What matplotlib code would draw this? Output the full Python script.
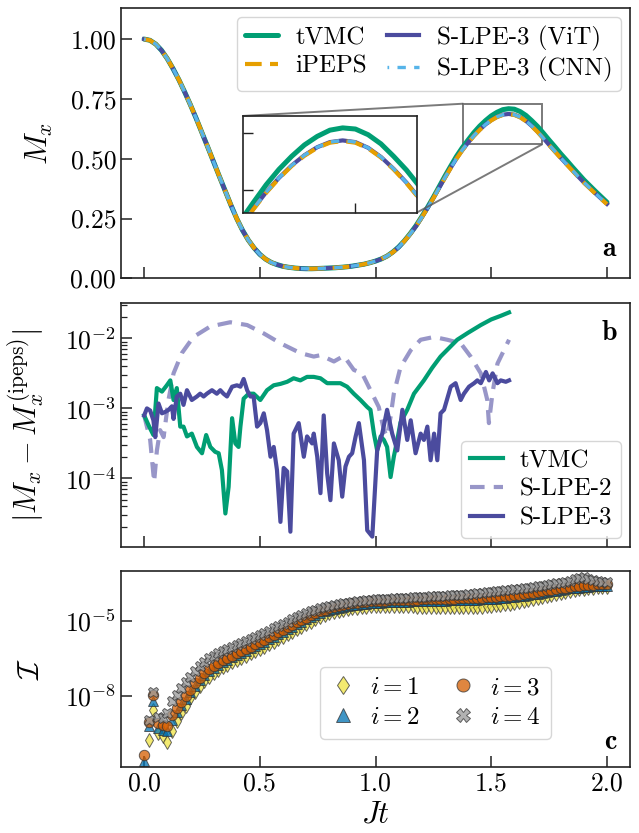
import numpy as np
import matplotlib
matplotlib.use("Agg")
import matplotlib.pyplot as plt
from matplotlib.ticker import LogLocator, NullLocator, NullFormatter, FixedLocator
from mpl_toolkits.axes_grid1.inset_locator import mark_inset

plt.rcParams['font.family'] = 'serif'
plt.rcParams['font.serif'] = ['cmr10']
plt.rcParams['mathtext.fontset'] = 'cm'
plt.rcParams['axes.unicode_minus'] = False
plt.rcParams['axes.formatter.use_mathtext'] = True

# ---------------- panel a data (t = 0, 0.025, ..., 2.0) ----------------
t_a = [round(0.025 * k, 3) for k in range(81)]
mx_ipeps = [1.000, 0.995, 0.979, 0.953, 0.918, 0.876, 0.830, 0.779, 0.725, 0.668,
            0.608, 0.548, 0.487, 0.426, 0.366, 0.306, 0.250, 0.201, 0.160, 0.127,
            0.100, 0.080, 0.066, 0.057, 0.050, 0.046, 0.043, 0.041, 0.040, 0.040,
            0.041, 0.042, 0.043, 0.044, 0.046, 0.048, 0.051, 0.055, 0.059, 0.065,
            0.072, 0.081, 0.093, 0.109, 0.130, 0.156, 0.185, 0.218, 0.255, 0.294,
            0.335, 0.378, 0.420, 0.461, 0.500, 0.535, 0.566, 0.595, 0.620, 0.642,
            0.660, 0.674, 0.683, 0.686, 0.683, 0.673, 0.657, 0.636, 0.612, 0.585,
            0.557, 0.530, 0.503, 0.477, 0.451, 0.425, 0.400, 0.377, 0.354, 0.332,
            0.310]
mx_tvmc = [1.000, 0.995, 0.979, 0.953, 0.918, 0.876, 0.830, 0.779, 0.725, 0.668,
           0.608, 0.548, 0.487, 0.426, 0.366, 0.306, 0.250, 0.201, 0.160, 0.127,
           0.100, 0.080, 0.066, 0.057, 0.050, 0.046, 0.043, 0.041, 0.040, 0.040,
           0.041, 0.042, 0.043, 0.044, 0.046, 0.048, 0.051, 0.055, 0.059, 0.065,
           0.072, 0.081, 0.093, 0.110, 0.131, 0.157, 0.187, 0.220, 0.258, 0.297,
           0.339, 0.383, 0.427, 0.469, 0.510, 0.546, 0.578, 0.609, 0.636, 0.659,
           0.679, 0.694, 0.705, 0.709, 0.707, 0.697, 0.681, 0.659, 0.635, 0.607,
           0.578, 0.550, 0.521, 0.494, 0.466, 0.439, 0.412, 0.388, 0.364, 0.341,
           0.318]
mx_vit = [1.000, 0.995, 0.979, 0.953, 0.918, 0.876, 0.830, 0.779, 0.725, 0.668,
          0.608, 0.548, 0.487, 0.426, 0.366, 0.306, 0.250, 0.201, 0.160, 0.127,
          0.100, 0.080, 0.066, 0.057, 0.050, 0.046, 0.043, 0.041, 0.040, 0.040,
          0.041, 0.042, 0.043, 0.044, 0.046, 0.048, 0.051, 0.055, 0.059, 0.065,
          0.072, 0.081, 0.093, 0.109, 0.130, 0.156, 0.185, 0.218, 0.255, 0.294,
          0.335, 0.378, 0.421, 0.462, 0.501, 0.536, 0.567, 0.596, 0.621, 0.643,
          0.661, 0.675, 0.684, 0.687, 0.684, 0.674, 0.658, 0.637, 0.613, 0.586,
          0.558, 0.531, 0.504, 0.478, 0.452, 0.426, 0.401, 0.378, 0.355, 0.333,
          0.311]
mx_cnn = [1.000, 0.995, 0.979, 0.953, 0.918, 0.876, 0.830, 0.779, 0.725, 0.668,
          0.608, 0.548, 0.487, 0.426, 0.366, 0.306, 0.250, 0.201, 0.160, 0.127,
          0.100, 0.080, 0.066, 0.057, 0.050, 0.046, 0.043, 0.041, 0.040, 0.040,
          0.041, 0.042, 0.043, 0.044, 0.046, 0.048, 0.051, 0.055, 0.059, 0.065,
          0.072, 0.081, 0.093, 0.109, 0.130, 0.156, 0.185, 0.218, 0.255, 0.294,
          0.335, 0.378, 0.421, 0.462, 0.501, 0.536, 0.567, 0.596, 0.621, 0.643,
          0.661, 0.675, 0.684, 0.687, 0.684, 0.674, 0.658, 0.637, 0.613, 0.586,
          0.558, 0.531, 0.504, 0.478, 0.452, 0.426, 0.401, 0.378, 0.355, 0.333,
          0.311]

# ---------------- panel b data (log10 of |Mx - Mx_ipeps|) ----------------
t_b_tvmc = [0.000, 0.019, 0.040, 0.055, 0.077, 0.098, 0.113, 0.127, 0.141, 0.156, 0.170, 0.185,
            0.206, 0.228, 0.250, 0.268, 0.286, 0.307, 0.322, 0.336, 0.351, 0.365, 0.380, 0.394,
            0.408, 0.416, 0.430, 0.452, 0.473, 0.502, 0.531, 0.560, 0.589, 0.618, 0.646, 0.675,
            0.704, 0.733, 0.762, 0.791, 0.820, 0.848, 0.877, 0.906, 0.935, 0.964, 0.978, 0.993,
            1.007, 1.022, 1.036, 1.050, 1.065, 1.079, 1.094, 1.108, 1.137, 1.166, 1.209, 1.245,
            1.281, 1.317, 1.353, 1.400, 1.455, 1.500, 1.540, 1.577]
log_b_tvmc = [-3.10, -3.24, -3.38, -2.71, -2.76, -2.67, -2.60, -2.88, -2.71, -3.26, -3.26, -3.40,
              -3.36, -3.55, -3.64, -3.38, -3.55, -3.62, -3.64, -3.88, -4.50, -4.12, -3.14, -3.50,
              -3.55, -3.26, -2.86, -2.79, -2.79, -2.88, -2.74, -2.67, -2.65, -2.62, -2.57, -2.60,
              -2.55, -2.55, -2.57, -2.64, -2.64, -2.64, -2.69, -2.79, -2.88, -2.98, -3.02, -3.36,
              -3.60, -3.40, -3.45, -3.55, -3.98, -3.69, -3.45, -3.20, -3.02, -2.79, -2.60, -2.42,
              -2.26, -2.14, -2.02, -1.92, -1.81, -1.73, -1.68, -1.63]
t_b_slpe2 = [0.000, 0.026, 0.043, 0.055, 0.069, 0.084, 0.105, 0.127, 0.163, 0.213, 0.286, 0.372,
             0.445, 0.517, 0.589, 0.675, 0.733, 0.762, 0.820, 0.863, 0.906, 0.942, 0.978, 1.014,
             1.036, 1.050, 1.065, 1.079, 1.108, 1.152, 1.195, 1.253, 1.310, 1.368, 1.411, 1.455,
             1.483, 1.490, 1.505, 1.527, 1.577]
log_b_slpe2 = [-3.10, -3.45, -4.05, -3.60, -3.31, -3.41, -2.88, -2.50, -2.21, -1.98, -1.83, -1.77,
               -1.81, -1.93, -2.07, -2.21, -2.26, -2.24, -2.33, -2.25, -2.45, -2.50, -2.74, -2.98,
               -3.31, -3.40, -3.12, -2.79, -2.41, -2.17, -2.02, -1.98, -2.02, -2.07, -2.26, -2.50,
               -2.88, -3.21, -2.79, -2.36, -2.02]
t_b_slpe3 = [0.000, 0.012, 0.026, 0.040, 0.048, 0.062, 0.077, 0.091, 0.106, 0.120, 0.127, 0.141,
             0.156, 0.170, 0.185, 0.206, 0.228, 0.242, 0.257, 0.271, 0.293, 0.314, 0.329, 0.343,
             0.358, 0.380, 0.401, 0.416, 0.430, 0.445, 0.459, 0.473, 0.488, 0.502, 0.517, 0.531,
             0.546, 0.560, 0.574, 0.589, 0.603, 0.618, 0.632, 0.646, 0.668, 0.690, 0.704, 0.726,
             0.733, 0.748, 0.762, 0.776, 0.791, 0.805, 0.820, 0.841, 0.856, 0.870, 0.885, 0.899,
             0.914, 0.928, 0.950, 0.964, 0.986, 1.007, 1.029, 1.050, 1.072, 1.094, 1.116, 1.137,
             1.152, 1.173, 1.195, 1.209, 1.224, 1.238, 1.253, 1.267, 1.281, 1.296, 1.325, 1.346,
             1.368, 1.382, 1.404, 1.426, 1.440, 1.455, 1.477, 1.491, 1.506, 1.527, 1.541, 1.563,
             1.577]
log_b_slpe3 = [-3.10, -3.00, -3.03, -3.17, -3.41, -2.93, -3.07, -3.05, -3.02, -2.97, -3.15, -2.83,
               -2.79, -2.95, -2.74, -2.88, -2.83, -2.79, -2.83, -2.79, -2.74, -2.79, -2.74, -2.79,
               -2.83, -2.69, -2.67, -2.69, -2.58, -2.74, -2.83, -2.83, -3.26, -3.21, -3.07, -3.31,
               -3.69, -3.55, -3.88, -4.62, -3.85, -3.90, -4.76, -3.36, -3.21, -3.69, -3.40, -3.50,
               -3.36, -3.69, -4.21, -3.10, -3.93, -4.31, -3.50, -3.74, -4.26, -3.83, -3.69, -3.64,
               -3.40, -3.21, -3.74, -4.74, -4.83, -3.60, -3.36, -3.02, -3.36, -3.60, -3.02, -3.45,
               -3.17, -3.64, -3.36, -3.45, -3.26, -3.74, -3.36, -3.74, -3.07, -3.02, -2.69, -2.64,
               -2.88, -2.79, -2.69, -2.64, -2.60, -2.64, -2.48, -2.60, -2.50, -2.64, -2.60, -2.62,
               -2.60]

# ---------------- panel c data (log10 of I), t = 0, 0.02, ..., 2.00 ----------------
t_c = [round(0.02 * k, 2) for k in range(101)]
log_c_i1 = [-11.30, -9.77, -8.57, -9.50, -9.60, -9.85, -9.40, -9.00, -8.70, -8.40, -8.10, -7.85,
            -7.62, -7.42, -7.25, -7.10, -6.97, -6.86, -6.76, -6.66, -6.57, -6.48, -6.39, -6.30,
            -6.21, -6.12, -6.03, -5.93, -5.83, -5.73, -5.63, -5.53, -5.43, -5.33, -5.23, -5.13,
            -5.03, -4.94, -4.85, -4.77, -4.70, -4.64, -4.59, -4.55, -4.52, -4.49, -4.47, -4.45,
            -4.43, -4.42, -4.41, -4.40, -4.40, -4.40, -4.40, -4.41, -4.41, -4.42, -4.42, -4.43,
            -4.43, -4.44, -4.44, -4.45, -4.45, -4.46, -4.46, -4.46, -4.46, -4.46, -4.45, -4.45,
            -4.44, -4.43, -4.42, -4.40, -4.38, -4.36, -4.34, -4.31, -4.28, -4.25, -4.21, -4.17,
            -4.13, -4.09, -4.05, -4.01, -3.97, -3.93, -3.89, -3.85, -3.81, -3.77, -3.74, -3.71,
            -3.68, -3.66, -3.64, -3.63, -3.62]
log_c_i2 = [-10.60, -9.22, -8.22, -9.30, -9.35, -9.40, -8.95, -8.65, -8.38, -8.12, -7.86, -7.60,
            -7.37, -7.16, -7.00, -6.87, -6.75, -6.65, -6.55, -6.46, -6.37, -6.28, -6.19, -6.10,
            -6.01, -5.92, -5.83, -5.73, -5.63, -5.53, -5.43, -5.33, -5.23, -5.13, -5.03, -4.94,
            -4.85, -4.77, -4.69, -4.62, -4.56, -4.51, -4.47, -4.43, -4.40, -4.37, -4.35, -4.33,
            -4.31, -4.29, -4.28, -4.27, -4.26, -4.25, -4.24, -4.24, -4.23, -4.23, -4.22, -4.22,
            -4.21, -4.21, -4.20, -4.20, -4.19, -4.19, -4.18, -4.18, -4.17, -4.17, -4.16, -4.15,
            -4.15, -4.14, -4.13, -4.12, -4.11, -4.09, -4.08, -4.06, -4.04, -4.02, -4.00, -3.97,
            -3.94, -3.91, -3.88, -3.85, -3.82, -3.79, -3.76, -3.73, -3.70, -3.68, -3.66, -3.64,
            -3.62, -3.61, -3.60, -3.59, -3.58]
log_c_i3 = [-10.37, -9.05, -7.95, -9.10, -9.15, -9.20, -8.75, -8.50, -8.25, -8.00, -7.75, -7.50,
            -7.28, -7.08, -6.92, -6.80, -6.68, -6.58, -6.48, -6.39, -6.30, -6.21, -6.12, -6.03,
            -5.94, -5.85, -5.76, -5.66, -5.56, -5.46, -5.36, -5.26, -5.16, -5.06, -4.96, -4.87,
            -4.78, -4.70, -4.62, -4.55, -4.49, -4.44, -4.40, -4.36, -4.33, -4.30, -4.28, -4.26,
            -4.24, -4.22, -4.21, -4.20, -4.19, -4.18, -4.17, -4.17, -4.16, -4.16, -4.15, -4.15,
            -4.14, -4.14, -4.13, -4.13, -4.12, -4.12, -4.11, -4.11, -4.10, -4.10, -4.09, -4.08,
            -4.08, -4.07, -4.06, -4.05, -4.04, -4.02, -4.01, -3.99, -3.97, -3.95, -3.93, -3.90,
            -3.87, -3.84, -3.81, -3.78, -3.75, -3.72, -3.69, -3.66, -3.63, -3.61, -3.59, -3.57,
            -3.55, -3.54, -3.53, -3.52, -3.51]
log_c_i4 = [-11.30, -8.95, -7.84, -8.85, -8.90, -8.70, -8.20, -7.95, -7.70, -7.45, -7.25, -7.02,
            -6.82, -6.65, -6.50, -6.40, -6.30, -6.20, -6.12, -6.04, -5.96, -5.88, -5.80, -5.72,
            -5.64, -5.56, -5.48, -5.39, -5.30, -5.21, -5.12, -5.03, -4.94, -4.85, -4.77, -4.69,
            -4.62, -4.55, -4.49, -4.44, -4.40, -4.36, -4.33, -4.30, -4.27, -4.24, -4.22, -4.20,
            -4.18, -4.16, -4.14, -4.13, -4.12, -4.11, -4.10, -4.09, -4.08, -4.07, -4.06, -4.05,
            -4.04, -4.03, -4.02, -4.01, -4.00, -3.99, -3.98, -3.97, -3.96, -3.95, -3.93, -3.92,
            -3.90, -3.88, -3.86, -3.84, -3.82, -3.80, -3.78, -3.76, -3.74, -3.72, -3.70, -3.67,
            -3.64, -3.61, -3.58, -3.55, -3.52, -3.49, -3.46, -3.42, -3.38, -3.33, -3.28, -3.25,
            -3.30, -3.36, -3.40, -3.42, -3.44]

labels_a = ['tVMC', 'iPEPS', 'S-LPE-3 (ViT)', 'S-LPE-3 (CNN)']
labels_b = ['tVMC', 'S-LPE-2', 'S-LPE-3']
labels_c = [r'$i=1$', r'$i=2$', r'$i=3$', r'$i=4$']
xticks = [0.0, 0.5, 1.0, 1.5, 2.0]

C_GREEN = '#009E73'
C_ORANGE = '#E69F00'
C_INDIGO = '#4B4B9E'
C_LAV = '#9896C8'
C_SKY = '#56B4E9'

TICKFS = 18.5
LABFS = 22
LEGFS = 18

fig = plt.figure(figsize=(6.39, 8.33), dpi=100)
axa = fig.add_axes([0.1894, 0.6659, 0.7966, 0.3245])
axb = fig.add_axes([0.1894, 0.3433, 0.7966, 0.2930])
axc = fig.add_axes([0.1894, 0.0792, 0.7966, 0.2353])

def style(ax):
    for s in ax.spines.values():
        s.set_linewidth(1.2)
        s.set_color('#222222')
    ax.tick_params(which='major', direction='in', length=8, width=1.1, labelsize=TICKFS,
                   color='#222222', top=False, right=False)
    ax.tick_params(which='minor', direction='in', length=4, width=0.9, color='#222222')
    ax.set_xlim(-0.1, 2.1)
    ax.set_xticks(xticks)

# ---- panel a ----
style(axa)
lw = 3.0
def draw_a(ax):
    l1, = ax.plot(t_a, mx_tvmc, color=C_GREEN, lw=lw + 0.6, solid_capstyle='round')
    l3, = ax.plot(t_a, mx_vit, color=C_INDIGO, lw=lw)
    l2, = ax.plot(t_a, mx_ipeps, color=C_ORANGE, lw=lw, ls=(0, (4.0, 2.0)))
    l4, = ax.plot(t_a, mx_cnn, color=C_SKY, lw=lw * 0.8, ls=(2, (2.5, 2.5)))
    return [l1, l2, l3, l4]
handles_a = draw_a(axa)
axa.set_ylim(0, 1.13)
axa.set_yticks([0.0, 0.25, 0.5, 0.75, 1.0])
axa.set_yticklabels(['0.00', '0.25', '0.50', '0.75', '1.00'])
axa.set_xticklabels([])
axa.set_ylabel(r'$M_x$', fontsize=LABFS)
axa.legend(handles_a, labels_a, ncol=2, loc='upper right', fontsize=LEGFS, handlelength=1.3,
           handletextpad=0.7, columnspacing=0.8, borderpad=0.35, labelspacing=0.25,
           framealpha=0.8, edgecolor='#cccccc', borderaxespad=0.35)
axa.text(0.975, 0.06, r'$\mathbf{a}$', transform=axa.transAxes, ha='right', va='bottom',
         fontsize=20)

axins = axa.inset_axes([0.240, 0.2427, 0.3407, 0.358])
draw_a(axins)
axins.set_xlim(1.38, 1.72)
axins.set_ylim(0.56, 0.73)
axins.set_xticks([1.6])
axins.set_yticks([0.6, 0.7])
axins.set_xticklabels([])
axins.set_yticklabels([])
axins.tick_params(direction='in', length=7, width=1.0, color='#222222')
for s in axins.spines.values():
    s.set_linewidth(1.2)
    s.set_color('#222222')
mark_inset(axa, axins, loc1=2, loc2=4, fc='none', ec='0.35', lw=1.4, alpha=0.8)

# ---- panel b ----
style(axb)
axb.set_yscale('log')
lb2, = axb.plot(t_b_slpe2, 10 ** np.array(log_b_slpe2), color=C_LAV, lw=3.0, ls=(0, (3.5, 2.2)))
lb1, = axb.plot(t_b_tvmc, 10 ** np.array(log_b_tvmc), color=C_GREEN, lw=3.0)
lb3, = axb.plot(t_b_slpe3, 10 ** np.array(log_b_slpe3), color=C_INDIGO, lw=3.0)
axb.set_ylim(1.05e-5, 3.2e-2)
axb.yaxis.set_major_locator(FixedLocator([1e-4, 1e-3, 1e-2]))
axb.yaxis.set_minor_locator(LogLocator(base=10, subs=np.arange(2, 10), numticks=20))
axb.yaxis.set_minor_formatter(NullFormatter())
axb.set_xticklabels([])
axb.set_ylabel(r'$|M_x - M_x^{(\mathrm{ipeps})}|$', fontsize=LABFS)
axb.legend([lb1, lb2, lb3], labels_b, loc='lower right', fontsize=LEGFS, handlelength=1.3,
           handletextpad=0.7, borderpad=0.35, labelspacing=0.25, framealpha=0.8,
           edgecolor='#cccccc', borderaxespad=0.35)
axb.text(0.975, 0.93, r'$\mathbf{b}$', transform=axb.transAxes, ha='right', va='top',
         fontsize=20)

# ---- panel c ----
style(axc)
axc.set_yscale('log')
mk = dict(ls='none', markersize=7.5, markeredgecolor='#333333', markeredgewidth=0.7, alpha=0.75)
hc1, = axc.plot(t_c, 10 ** np.array(log_c_i1), marker='d', color='#F0E442', **mk)
hc2, = axc.plot(t_c, 10 ** np.array(log_c_i2), marker='^', color='#0072B2', **mk)
hc3, = axc.plot(t_c, 10 ** np.array(log_c_i3), marker='o', color='#D55E00', **mk)
hc4, = axc.plot(t_c, 10 ** np.array(log_c_i4), marker='X', color='#999999', **mk)
axc.set_ylim(10 ** -10.85, 1e-3)
axc.yaxis.set_major_locator(FixedLocator([1e-8, 1e-5]))
axc.yaxis.set_minor_locator(NullLocator())
axc.set_xticklabels(['0.0', '0.5', '1.0', '1.5', '2.0'])
axc.set_xlabel(r'$Jt$', fontsize=LABFS)
axc.set_ylabel(r'$\mathcal{I}$', fontsize=LABFS)
axc.legend([hc1, hc2, hc3, hc4], labels_c, ncol=2, loc='center',
           bbox_to_anchor=(0.618, 0.327), fontsize=LEGFS, handlelength=1.0, markerscale=1.25,
           handletextpad=0.6, columnspacing=1.2, borderpad=0.4, labelspacing=0.3,
           framealpha=0.8, edgecolor='#cccccc')
axc.text(0.975, 0.06, r'$\mathbf{c}$', transform=axc.transAxes, ha='right', va='bottom',
         fontsize=20)

for ax, xl in ((axa, -0.13), (axb, -0.145), (axc, -0.15)):
    ax.yaxis.set_label_coords(xl, 0.5)

fig.savefig('out.png', dpi=100)
